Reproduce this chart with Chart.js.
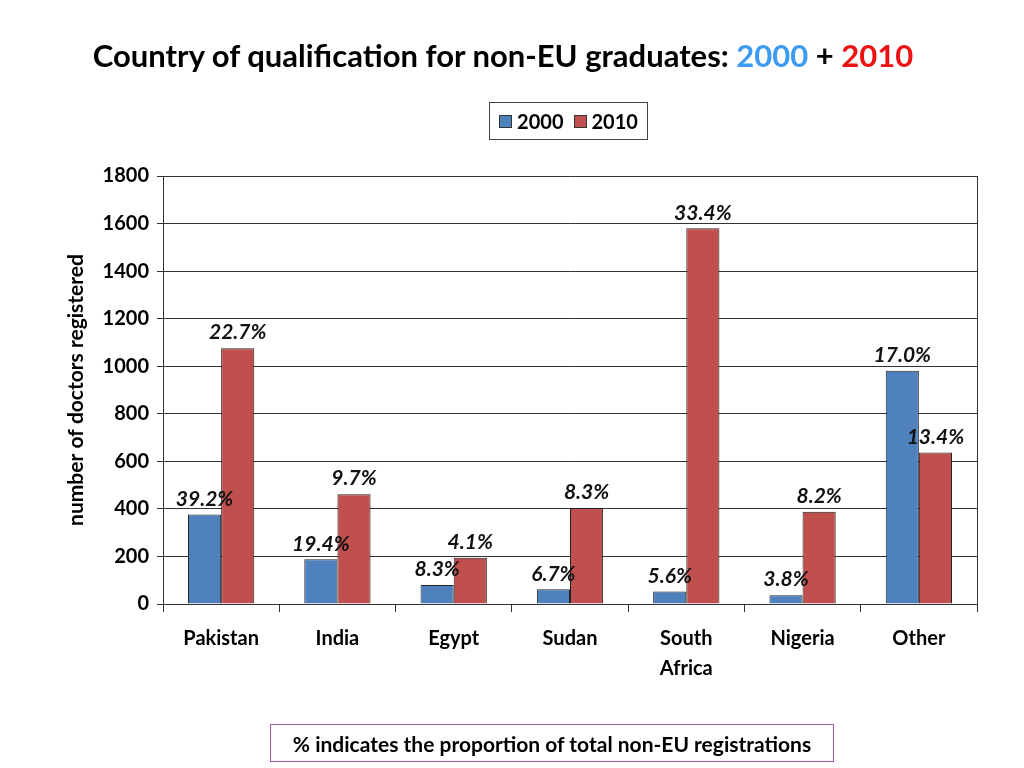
<!DOCTYPE html>
<html>
<head>
<meta charset="utf-8">
<script src="https://cdn.jsdelivr.net/npm/chart.js@4.4.0/dist/chart.umd.min.js"></script>
<style>
  body { margin: 0; background: #fff; font-family: Lato, "Open Sans", sans-serif; }
  #wrap { position: relative; width: 1024px; height: 768px; }
  #chartCanvas { position: absolute; left: 0; top: 0; }
  #title { position: absolute; left: 0; width: 1006px; top: 36px; text-align: center;
    font-weight: bold; font-size: 31px; color: #000; }
  #title .y0 { color: #3d9bf5; }
  #title .y1 { color: #ee1111; }
  #legend { position: absolute; left: 489px; top: 102px; width: 157px; height: 36px;
    border: 1px solid #444; display: flex; align-items: center; justify-content: center;
    font-weight: bold; font-size: 20px; }
  #legend .sw { display: inline-block; width: 11px; height: 11px; border: 1px solid #333; margin: 0 5px 0 0; }
  #legend .item { display: flex; align-items: center; margin: 0 5px; }
  #note { position: absolute; left: 270px; top: 724px; width: 562px; height: 36px;
    border: 1px solid #a05aa6; display: flex; align-items: center; justify-content: center;
    font-weight: bold; font-size: 21px; }
</style>
</head>
<body>
<div id="wrap">
  <canvas id="chartCanvas" width="1024" height="768"></canvas>
  <div id="title">Country of qualification for non-EU graduates: <span class="y0">2000</span> + <span class="y1">2010</span></div>
  <div id="legend"></div>
  <div id="note">% indicates the proportion of total non-EU registrations</div>
</div>
<script>
// --- Data ---
const countries = ["Pakistan", "India", "Egypt", "Sudan", ["South", "Africa"], "Nigeria", "Other"];
const seriesNames = ["2000", "2010"];
const doctors2000 = [376, 188, 80, 62, 53, 37, 981];
const doctors2010 = [1076, 462, 195, 404, 1580, 388, 637];
const pct2000 = ["39.2%", "19.4%", "8.3%", "6.7%", "5.6%", "3.8%", "17.0%"];
const pct2010 = ["22.7%", "9.7%", "4.1%", "8.3%", "33.4%", "8.2%", "13.4%"];
const yTicks = [0, 200, 400, 600, 800, 1000, 1200, 1400, 1600, 1800];

const colors = ["#4f81bd", "#c0504d"];

// --- Legend (HTML) ---
const legendEl = document.getElementById("legend");
seriesNames.forEach((name, i) => {
  const item = document.createElement("span");
  item.className = "item";
  item.innerHTML = `<span class="sw" style="background:${colors[i]}"></span>${name}`;
  legendEl.appendChild(item);
});

// percentage labels above each bar + right frame line
const pctLabels = {
  id: "pctLabels",
  afterDatasetsDraw(chart) {
    const ctx = chart.ctx;
    const area = chart.chartArea;
    ctx.save();
    ctx.strokeStyle = "#333";
    ctx.lineWidth = 1;
    ctx.beginPath();
    ctx.moveTo(Math.round(area.right) + 0.5, area.top);
    ctx.lineTo(Math.round(area.right) + 0.5, area.bottom);
    ctx.stroke();

    ctx.font = "italic bold 21px Lato, 'Open Sans', sans-serif";
    ctx.fillStyle = "#111";
    ctx.textAlign = "center";
    ctx.textBaseline = "bottom";
    [pct2000, pct2010].forEach((labels, di) => {
      const meta = chart.getDatasetMeta(di);
      meta.data.forEach((bar, i) => {
        ctx.fillText(labels[i], bar.x, bar.y - 5);
      });
    });
    ctx.restore();
  }
};

const canvas = document.getElementById("chartCanvas");

new Chart(canvas, {
  type: "bar",
  data: {
    labels: countries,
    datasets: [
      { label: seriesNames[0], data: doctors2000, backgroundColor: colors[0] },
      { label: seriesNames[1], data: doctors2010, backgroundColor: colors[1] }
    ]
  },
  options: {
    responsive: false,
    animation: false,
    layout: { padding: { top: 176, left: 0, right: 47, bottom: 0 } },
    datasets: {
      bar: {
        borderColor: "#222",
        borderWidth: 1,
        barPercentage: 1,
        categoryPercentage: 0.57
      }
    },
    plugins: {
      legend: { display: false },
      title: { display: false },
      tooltip: { enabled: false }
    },
    scales: {
      x: {
        afterFit: s => { s.height = 164; },
        grid: { drawOnChartArea: false, drawTicks: true, tickLength: 8, color: "#333", offset: true },
        border: { color: "#333" },
        ticks: {
          color: "#000",
          padding: 12,
          maxRotation: 0,
          font: { family: "Lato", size: 20, weight: "bold", lineHeight: 1.5 }
        }
      },
      y: {
        min: 0,
        max: 1800,
        afterFit: s => { s.width = 163; },
        afterBuildTicks: s => { s.ticks = yTicks.map(v => ({ value: v })); },
        grid: { color: "#333", tickLength: 6 },
        border: { color: "#333" },
        ticks: {
          color: "#000",
          padding: 8,
          callback: v => String(v),
          font: { family: "Lato", size: 20, weight: "bold" }
        },
        title: {
          display: true,
          text: "number of doctors registered",
          color: "#000",
          padding: { top: 64 },
          font: { family: "Lato", size: 21, weight: "bold" }
        }
      }
    }
  },
  plugins: [pctLabels]
});
</script>
</body>
</html>
